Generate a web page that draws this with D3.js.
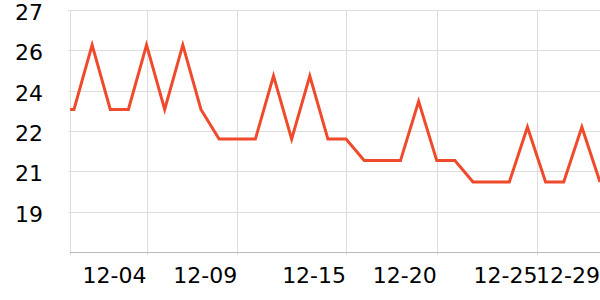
<!DOCTYPE html>
<html>
  <head>
    <meta charset="utf-8">
    <title>temperature line</title>
    <script src="https://d3js.org/d3.v7.min.js"></script>
    <style>
      body { margin: 0; background: #fff; }
      text { font-family: "DejaVu Sans", sans-serif; }
    </style>
  </head>
  <body>
    <div id="chart"></div>
  </body>
  <script>
  // day offset -1 = 11-29, 0 = 11-30, ... 29 = 12-29
  var days   = ["11-29", "11-30", "12-01", "12-02", "12-03", "12-04", "12-05", "12-06",
                "12-07", "12-08", "12-09", "12-10", "12-11", "12-12", "12-13", "12-14",
                "12-15", "12-16", "12-17", "12-18", "12-19", "12-20", "12-21", "12-22",
                "12-23", "12-24", "12-25", "12-26", "12-27", "12-28", "12-29"];
  var temps  = [23.3, 23.3, 25.7, 23.3, 23.3, 25.7, 23.3, 25.7, 23.3, 22.2, 22.2,
                22.2, 24.55, 22.2, 24.55, 22.2, 22.2, 21.4, 21.4, 21.4, 23.6, 21.4,
                21.4, 20.6, 20.6, 20.6, 22.65, 20.6, 20.6, 22.65, 20.6];
  var yTicks      = [27, 25.5, 24, 22.5, 21, 19.5];
  var yTickLabels = ["27", "26", "24", "22", "21", "19"];
  var xTicks      = [4, 9, 15, 20, 25.55, 29];
  var xTickLabels = ["12-04", "12-09", "12-15", "12-20", "12-25", "12-29"];

  var width = 600, height = 300;
  var plotLeft = 70, plotRight = 600, plotTop = 10, plotBottom = 252;

  var svg = d3.select("#chart")
      .append("svg")
      .attr("width", width)
      .attr("height", height);

  var x = d3.scaleLinear().domain([-0.22, 29]).range([plotLeft, plotRight]);
  var y = d3.scaleLinear().domain([18, 27]).range([plotBottom, plotTop]);

  // horizontal grid + y labels
  svg.selectAll(".hgrid")
      .data(yTicks)
      .enter()
      .append("line")
      .attr("x1", plotLeft - 2)
      .attr("x2", plotRight)
      .attr("y1", d => Math.round(y(d)) + 0.5)
      .attr("y2", d => Math.round(y(d)) + 0.5)
      .attr("stroke", "#dddddd");

  svg.selectAll(".ylabel")
      .data(yTicks)
      .enter()
      .append("text")
      .attr("x", 43)
      .attr("y", d => y(d) + 10)
      .attr("text-anchor", "end")
      .attr("font-size", "22px")
      .attr("fill", "#000")
      .text((d, i) => yTickLabels[i]);

  // vertical grid
  svg.selectAll(".vgrid")
      .data([x.domain()[0]].concat(xTicks))
      .enter()
      .append("line")
      .attr("x1", d => Math.round(x(d)) + 0.5)
      .attr("x2", d => Math.round(x(d)) + 0.5)
      .attr("y1", plotTop)
      .attr("y2", plotBottom + 3)
      .attr("stroke", "#dddddd");

  // bottom axis line
  svg.append("line")
      .attr("x1", plotLeft)
      .attr("x2", plotRight)
      .attr("y1", plotBottom + 0.5)
      .attr("y2", plotBottom + 0.5)
      .attr("stroke", "#bbbbbb");

  svg.selectAll(".xlabel")
      .data(xTicks)
      .enter()
      .append("text")
      .attr("x", d => x(d))
      .attr("y", 283)
      .attr("text-anchor", "end")
      .attr("font-size", "22px")
      .attr("fill", "#000")
      .text((d, i) => xTickLabels[i]);

  // line, clipped to the plot area
  svg.append("clipPath")
      .attr("id", "plot")
      .append("rect")
      .attr("x", plotLeft)
      .attr("y", 0)
      .attr("width", plotRight - plotLeft)
      .attr("height", plotBottom);

  var line = d3.line()
      .x((d, i) => x(i - 1))
      .y(d => y(d));

  svg.append("path")
      .datum(temps)
      .attr("clip-path", "url(#plot)")
      .attr("d", line)
      .attr("fill", "none")
      .attr("stroke", "#ef4a2b")
      .attr("stroke-width", 3);
  </script>
</html>
